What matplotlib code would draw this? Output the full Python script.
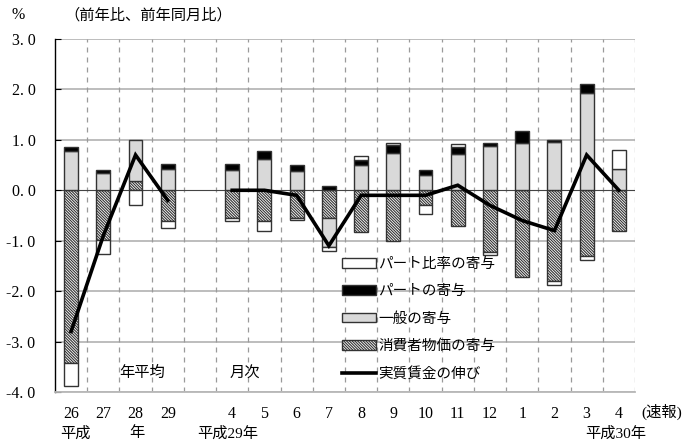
import numpy as np
import matplotlib
matplotlib.use("Agg")
import matplotlib.pyplot as plt
from matplotlib.patches import Patch
from matplotlib.lines import Line2D

plt.rcParams['font.family'] = ['Liberation Serif', 'Noto Sans CJK JP']
plt.rcParams['hatch.linewidth'] = 0.8
plt.rcParams['hatch.color'] = '#333333'

nan = np.nan

# slot 4 is the gap between the annual and the monthly bars
labels = ['26', '27', '28', '29', '', '4', '5', '6', '7', '8', '9', '10', '11', '12', '1', '2', '3', '4']

cpi = [-3.43, -0.98, 0.19, -0.61, nan, -0.54, -0.61, -0.54, -0.54, -0.83, -1.01, -0.30, -0.71, -1.22, -1.72, -1.80, -1.31, -0.81]
general = [0.78, 0.34, 0.81, 0.43, nan, 0.40, 0.63, 0.38, -0.58, 0.51, 0.73, 0.31, 0.71, 0.87, 0.93, 0.96, 1.92, 0.42]
part = [0.08, 0.06, 0.0, 0.09, nan, 0.13, 0.15, 0.12, 0.08, 0.10, 0.16, 0.09, 0.15, 0.07, 0.25, 0.04, 0.18, 0.0]
ratio = [-0.46, -0.29, -0.30, -0.13, nan, -0.06, -0.20, -0.04, -0.08, 0.07, 0.05, -0.18, 0.05, -0.07, 0.0, -0.07, -0.08, 0.37]
real = [-2.8, -0.9, 0.7, -0.2, nan, 0.0, 0.0, -0.1, -1.1, -0.1, -0.1, -0.1, 0.1, -0.3, -0.6, -0.8, 0.7, 0.0]

x = np.arange(len(labels)) + 0.5
width = 0.43
edge = '#333333'
hatch = '\\' * 12

fig = plt.figure(figsize=(6.89, 4.41), dpi=100)
ax = fig.add_axes([0.0798, 0.1111, 0.8418, 0.8005])

# grid
for yv in [3, 2, 1, -1, -2, -3, -4]:
    ax.axhline(yv, color='#b8b8b8', lw=1.3, zorder=0)
ax.axhline(0, color='#444444', lw=0.8, zorder=0.5)
for xv in range(1, len(labels) + 1):
    ax.axvline(xv, color='#9a9a9a', lw=0.9, ls=(0, (4, 4)), zorder=0)

# stacked bars: positive parts stack upward, negative parts downward
series = [
    (cpi, dict(facecolor='white', hatch=hatch)),
    (general, dict(facecolor='#d9d9d9')),
    (part, dict(facecolor='black')),
    (ratio, dict(facecolor='white')),
]
pos = np.zeros(len(labels))
neg = np.zeros(len(labels))
for vals, style in series:
    v = np.array(vals, dtype=float)
    ok = ~np.isnan(v) & (v != 0)
    v0 = np.nan_to_num(v)
    bottom = np.where(v0 >= 0, pos, neg)
    ax.bar(x[ok], v0[ok], width, bottom=bottom[ok], edgecolor=edge, linewidth=1.0, zorder=2, **style)
    pos = pos + np.where(v0 > 0, v0, 0)
    neg = neg + np.where(v0 < 0, v0, 0)

ax.plot(x, real, color='black', lw=2.6, zorder=3, solid_joinstyle='miter')

ax.set_xlim(0, len(labels))
ax.set_ylim(-4, 3)
yt = np.arange(-4, 3.1, 1)
ax.set_yticks(yt)
ax.set_yticklabels([f'{v:.1f}'.replace('.', '. ') for v in yt], fontsize=11.5)
ax.tick_params(axis='y', direction='in', length=4, width=0.8, pad=14)
ax.set_xticks(x)
ax.set_xticklabels(labels, fontsize=11.5)
ax.tick_params(axis='x', length=0, pad=10)
for s in ['top', 'right']:
    ax.spines[s].set_visible(False)
ax.spines['bottom'].set_color('#b8b8b8')
ax.spines['bottom'].set_linewidth(1.3)
ax.spines['left'].set_color('black')
ax.spines['left'].set_linewidth(1.0)

# labels
fig.text(0.026, 0.966, '%', fontsize=11.5, ha='center', va='center')
fig.text(0.094, 0.966, '（前年比、前年同月比）', fontsize=11, ha='left', va='center')
ax.text(2.7, -3.63, '年平均', fontsize=11, ha='center', va='center')
ax.text(5.9, -3.63, '月次', fontsize=11, ha='center', va='center')

row2 = -0.117
xt = ax.get_xaxis_transform()
ax.text(0.62, row2, '平成', transform=xt, fontsize=11, ha='center', va='center')
ax.text(2.55, row2, '年', transform=xt, fontsize=11, ha='center', va='center')
ax.text(5.37, row2, '平成29年', transform=xt, fontsize=11, ha='center', va='center')
ax.text(17.4, row2, '平成30年', transform=xt, fontsize=11, ha='center', va='center')
ax.text(18.2, -0.056, '(速報)', transform=xt, fontsize=11, ha='left', va='center', clip_on=False)

handles = [
    Patch(facecolor='white', edgecolor=edge, label='パート比率の寄与'),
    Patch(facecolor='black', edgecolor=edge, label='パートの寄与'),
    Patch(facecolor='#d9d9d9', edgecolor=edge, label='一般の寄与'),
    Patch(facecolor='white', edgecolor=edge, hatch=hatch, label='消費者物価の寄与'),
    Line2D([0], [0], color='black', lw=2.6, label='実質賃金の伸び'),
]
ax.legend(handles=handles, loc='upper left', bbox_to_anchor=(0.495, 0.38), frameon=False,
          fontsize=10.5, handlelength=2.3, handleheight=0.6, handletextpad=0.2,
          labelspacing=0.95, borderpad=0, borderaxespad=0)

fig.savefig('out.png', dpi=100)
